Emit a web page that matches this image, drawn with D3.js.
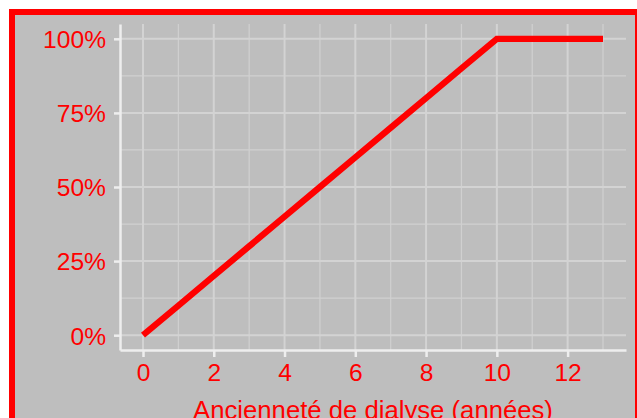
<!DOCTYPE html>
<html><head><meta charset="utf-8">
<script src="https://cdn.jsdelivr.net/npm/d3@7"></script>
<style>html,body{margin:0;padding:0;background:#fff;overflow:hidden}</style>
</head><body>
<svg id="c" width="637" height="418"></svg>
<script>
const years = [0, 1, 2, 3, 4, 5, 6, 7, 8, 9, 10, 11, 12, 13];
const share = [0, 0.1, 0.2, 0.3, 0.4, 0.5, 0.6, 0.7, 0.8, 0.9, 1, 1, 1, 1];
const xTicks = [0, 2, 4, 6, 8, 10, 12];
const xMinor = [1, 3, 5, 7, 9, 11, 13];
const yTicks = [0, 0.25, 0.5, 0.75, 1];
const yMinor = [0.125, 0.375, 0.625, 0.875];
const xTitle = "Ancienneté de dialyse (années)";

const svg = d3.select("#c");
const font = "'Liberation Sans', Arial, sans-serif";
const red = "#ff0000", bg = "#bebebe";

svg.append("rect").attr("x", 12).attr("y", 12).attr("width", 626).attr("height", 460)
  .attr("fill", bg).attr("stroke", red).attr("stroke-width", 6);

const L = 120, R = 626, T = 24, B = 350;
const x = d3.scaleLinear().domain([-0.65, 13.65]).range([L, R]);
const y = d3.scaleLinear().domain([-0.05, 1.05]).range([B, T]);

const g = svg.append("g");
// minor grid
g.selectAll(".vmin").data(xMinor).join("line")
  .attr("x1", d => x(d)).attr("x2", d => x(d)).attr("y1", T).attr("y2", B)
  .attr("stroke", "#d0d0d0").attr("stroke-width", 1.2);
g.selectAll(".hmin").data(yMinor).join("line")
  .attr("x1", L).attr("x2", R).attr("y1", d => y(d)).attr("y2", d => y(d))
  .attr("stroke", "#d0d0d0").attr("stroke-width", 1.2);
// major grid
g.selectAll(".vmaj").data(xTicks).join("line")
  .attr("x1", d => x(d)).attr("x2", d => x(d)).attr("y1", T).attr("y2", B)
  .attr("stroke", "#d3d3d3").attr("stroke-width", 2);
g.selectAll(".hmaj").data(yTicks).join("line")
  .attr("x1", L).attr("x2", R).attr("y1", d => y(d)).attr("y2", d => y(d))
  .attr("stroke", "#d3d3d3").attr("stroke-width", 2);

// axes
const axCol = "#eeeeee";
const xAxis = svg.append("g").attr("transform", `translate(0,${B})`)
  .call(d3.axisBottom(x).tickValues(xTicks).tickSize(7).tickPadding(6).tickSizeOuter(0));
const yAxis = svg.append("g").attr("transform", `translate(${L},0)`)
  .call(d3.axisLeft(y).tickValues(yTicks).tickFormat(d3.format(".0%")).tickSize(6).tickPadding(8).tickSizeOuter(0));
[xAxis, yAxis].forEach(a => {
  a.select(".domain").attr("stroke", axCol).attr("stroke-width", 2.5);
  a.selectAll(".tick line").attr("stroke", axCol).attr("stroke-width", 2.5);
  a.selectAll("text").attr("fill", red).style("font-family", font).style("font-size", "24.6px");
});
yAxis.selectAll("text").attr("dy", "0.36em");
xAxis.selectAll("text").attr("dy", "0.72em");

// line
const line = d3.line().x((d, i) => x(years[i])).y(d => y(d));
svg.append("path").datum(share).attr("d", line)
  .attr("fill", "none").attr("stroke", red).attr("stroke-width", 6.3)
  .attr("stroke-linecap", "butt").attr("stroke-linejoin", "miter");

svg.append("text").attr("x", (L + R) / 2).attr("y", 419).attr("text-anchor", "middle")
  .attr("fill", red).style("font-family", font).style("font-size", "25.7px").text(xTitle);
</script>
</body></html>
